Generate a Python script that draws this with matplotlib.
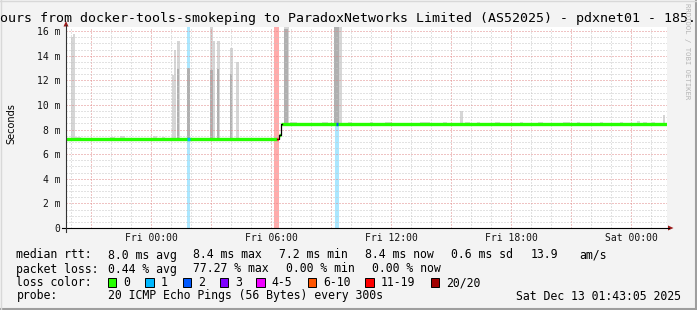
import matplotlib
matplotlib.use("Agg")
import matplotlib.pyplot as plt
from matplotlib.lines import Line2D
from matplotlib.patches import Rectangle, Polygon

# picture size in pixels, positions below are given in pixels from top-left
W, H = 697, 310

# time axis: hours relative to Fri 00:00
x_start, x_end = -4.25, 25.8
y_top = 16.33

x_tick_hours = [0, 6, 12, 18, 24]
x_tick_labels = ["Fri 00:00", "Fri 06:00", "Fri 12:00", "Fri 18:00", "Sat 00:00"]
y_tick_values = [0, 2, 4, 6, 8, 10, 12, 14, 16]
y_tick_labels = ["0", "2 m", "4 m", "6 m", "8 m", "10 m", "12 m", "14 m", "16 m"]

# median rtt (ms) as steps: start time of each step and its value
med_start = [-4.25, 6.28, 6.40, 6.52]
med_value = [7.22, 7.22, 7.55, 8.42]

# loss events: band start/end (hours), band class, median mark start/end and class
loss_start = [1.78, 6.15, 9.20]
loss_end = [1.95, 6.40, 9.38]
band_class = ["1", "11-19", "1"]
mark_start = [1.78, 6.31, 9.25]
mark_end = [1.95, 6.37, 9.36]
mark_class = ["1", "11-19", "2"]

# smoke: light spread of pings (start, end, top ms)
smoke_start = [-4.00, -3.88, 1.03, 1.15, 1.28, 2.93, 3.10, 3.28, 3.95, 4.23, 6.65, 9.15, 15.45, 25.58]
smoke_end = [-3.90, -3.78, 1.15, 1.25, 1.45, 3.10, 3.20, 3.45, 4.10, 4.40, 6.90, 9.55, 15.60, 25.68]
smoke_top = [15.5, 15.8, 12.4, 14.5, 15.2, 16.4, 15.2, 15.2, 14.6, 13.5, 16.4, 16.4, 9.5, 9.2]

# smoke: denser core of the spread
core_start = [1.28, 1.78, 2.95, 3.28, 3.95, 6.65, 9.15]
core_end = [1.40, 1.95, 3.10, 3.40, 4.05, 6.85, 9.40]
core_top = [12.9, 13.0, 12.8, 12.9, 12.5, 16.2, 16.4]

# small smoke just above the median
fuzz_start = [-3.9, -2.05, -1.55, 0.1, 0.55, 2.3, 3.6, 4.55, 5.0, 6.95, 7.45, 8.55,
              9.85, 10.95, 11.7, 13.45, 14.6, 15.7, 16.3, 17.2, 18.45, 19.35, 20.6,
              21.3, 22.45, 23.45, 24.3, 24.6, 25.05]
fuzz_end = [-3.5, -1.8, -1.3, 0.3, 0.7, 2.85, 3.75, 5.6, 5.8, 7.3, 7.8, 8.85,
            10.05, 11.1, 12.05, 13.95, 14.8, 15.95, 16.45, 17.45, 18.6, 19.6, 20.95,
            21.45, 22.6, 23.6, 24.45, 24.8, 25.2]
fuzz_top = [7.4, 7.4, 7.5, 7.5, 7.4, 7.3, 7.35, 7.3, 7.3, 8.6, 8.55, 8.65,
            8.63, 8.63, 8.63, 8.63, 8.63, 8.63, 8.6, 8.6, 8.6, 8.6, 8.63,
            8.6, 8.6, 8.6, 8.7, 8.63, 8.6]

legend_names = ["0", "1", "2", "3", "4-5", "6-10", "11-19", "20/20"]
legend_colors = ["#26ff00", "#00b8ff", "#0059ff", "#7e00ff", "#f000ff", "#ff5500", "#ff0000", "#a10000"]
loss_color = dict(zip(legend_names, legend_colors))

title = "ours from docker-tools-smokeping to ParadoxNetworks Limited (AS52025) - pdxnet01 - 185."
rtt_parts = ["8.0 ms avg", "8.4 ms max", "7.2 ms min", "8.4 ms now", "0.6 ms sd", "13.9", "am/s"]
loss_parts = ["0.44 % avg", "77.27 % max", "0.00 % min", "0.00 % now"]
probe_text = "20 ICMP Echo Pings (56 Bytes) every 300s"
stamp_text = "Sat Dec 13 01:43:05 2025"


def fx(x):
    return x / W


def fy(y):
    return 1 - y / H


def median_at(t):
    v = med_value[0]
    for s, m in zip(med_start, med_value):
        if t >= s:
            v = m
    return v


MONO = "DejaVu Sans Mono"
plt.rcParams["lines.scale_dashes"] = False

fig = plt.figure(figsize=(W / 100, H / 100), dpi=100)
fig.patch.set_facecolor("#f3f3f3")

ax = fig.add_axes([fx(66), fy(228), (667 - 66) / W, (228 - 27) / H])
ax.set_facecolor("white")
ax.set_xlim(x_start, x_end)
ax.set_ylim(0, y_top)
for s in ax.spines.values():
    s.set_visible(False)

# loss bands
for a, b, c in zip(loss_start, loss_end, band_class):
    ax.axvspan(a, b, color=loss_color[c], alpha=0.33, lw=0, zorder=1)

# smoke
for a, b, t in zip(fuzz_start, fuzz_end, fuzz_top):
    base = median_at(a)
    ax.bar(a, t - base, width=b - a, bottom=base, align="edge", color="#dcdcdc", lw=0, zorder=2)
for a, b, t in zip(smoke_start, smoke_end, smoke_top):
    base = median_at(a)
    ax.bar(a, t - base, width=b - a, bottom=base, align="edge", color="#d6d6d6", lw=0, zorder=2)
for a, b, t in zip(core_start, core_end, core_top):
    base = median_at(a)
    ax.bar(a, t - base, width=b - a, bottom=base, align="edge", color="#b0b0b0", lw=0, zorder=2)

# grid
dots = (0, (0.72, 1.44))
for h in range(int(x_start), int(x_end) + 1):
    if h <= x_start:
        continue
    col = "#e08888" if h % 3 == 0 else "#c6c6c6"
    ax.axvline(h, color=col, lw=0.72, linestyle=dots, zorder=3)
for i in range(1, int(y_top * 2) + 1):
    v = i * 0.5
    col = "#e08888" if v % 2 == 0 else "#c6c6c6"
    ax.axhline(v, color=col, lw=0.72, linestyle=dots, zorder=3)

# median line, green where no loss, black connecting steps
ends = med_start[1:] + [x_end]
green = loss_color["0"]
for i, (a, b, v) in enumerate(zip(med_start, ends, med_value)):
    if i == 1:
        continue
    ax.plot([a, b], [v, v], color=green, lw=2.4, solid_capstyle="butt", zorder=4)
ax.step(med_start[1:] + [med_start[-1] + 0.02], med_value[1:] + [med_value[-1]], where="post",
        color="black", lw=0.9, zorder=5)
for a, b, c in zip(mark_start, mark_end, mark_class):
    v = median_at(a)
    ax.plot([a, b], [v, v], color=loss_color[c], lw=2.4, solid_capstyle="butt", zorder=6)

ax.set_xticks(x_tick_hours, labels=x_tick_labels)
ax.set_yticks(y_tick_values, labels=y_tick_labels)
ax.tick_params(axis="both", length=0, labelsize=7, labelcolor="#111111")
ax.tick_params(axis="x", pad=3.4)
ax.tick_params(axis="y", pad=4.0)
for lab in ax.get_xticklabels() + ax.get_yticklabels():
    lab.set_fontfamily(MONO)

# axes with arrows
fig.add_artist(Line2D([fx(62), fx(669)], [fy(228), fy(228)], color="black", lw=0.8))
fig.add_artist(Line2D([fx(66), fx(66)], [fy(232), fy(25)], color="#333333", lw=0.8))
fig.add_artist(Polygon([(fx(63.5), fy(26.5)), (fx(68.5), fy(26.5)), (fx(66), fy(21))],
                       closed=True, color="#9b1b1b", lw=0))
fig.add_artist(Polygon([(fx(668), fy(225.5)), (fx(668), fy(230.5)), (fx(673.5), fy(228))],
                       closed=True, color="#9b1b1b", lw=0))

# texts
fig.text(fx(-0.5), fy(18.5), title, family=MONO, fontsize=9.5, ha="left", va="center")
fig.text(fx(11), fy(124), "Seconds", fontsize=7, rotation=90, ha="center", va="center")
fig.text(fx(686.5), fy(3), "RRDTOOL / TOBI OETIKER", family=MONO, fontsize=5.2,
         color="#b5b5b5", rotation=270, ha="center", va="top")

leg = dict(family=MONO, fontsize=8.3, ha="left", va="center")
row_y = [255, 269, 282.5, 296]
fig.text(fx(16.4), fy(row_y[0]), "median rtt:", **leg)
for x, s in zip([107.6, 192.9, 279.1, 365.3, 451.1, 531.1, 579.1], rtt_parts):
    fig.text(fx(x), fy(row_y[0]), s, **leg)
fig.text(fx(16.4), fy(row_y[1]), "packet loss:", **leg)
for x, s in zip([107.6, 192.9, 286.2, 372.4], loss_parts):
    fig.text(fx(x), fy(row_y[1]), s, **leg)
fig.text(fx(16.4), fy(row_y[2]), "loss color:", **leg)
box_x = [108, 145.3, 182.7, 219.6, 256.4, 307.6, 365.3, 430.7]
for bx, name, col in zip(box_x, legend_names, legend_colors):
    fig.add_artist(Rectangle((fx(bx), fy(286.7)), 8.4 / W, 8.4 / H, facecolor=col,
                             edgecolor="black", lw=0.7))
    fig.text(fx(bx + 15.5), fy(row_y[2]), name, **leg)
fig.text(fx(16.4), fy(row_y[3]), "probe:", **leg)
fig.text(fx(107.6), fy(row_y[3]), probe_text, **leg)
fig.text(fx(680.5), fy(row_y[3]), stamp_text, **dict(leg, ha="right"))

# frame shading
fig.add_artist(Line2D([0, 1], [fy(309), fy(309)], color="#9e9e9e", lw=1.5))
fig.add_artist(Line2D([fx(696), fx(696)], [0, 1], color="#9e9e9e", lw=1.5))
fig.add_artist(Line2D([0, 1], [fy(0.7), fy(0.7)], color="#d8d8d8", lw=1))
fig.add_artist(Line2D([fx(0.7), fx(0.7)], [0, 1], color="#d8d8d8", lw=1))

fig.savefig("out.png", dpi=100, facecolor=fig.get_facecolor())
